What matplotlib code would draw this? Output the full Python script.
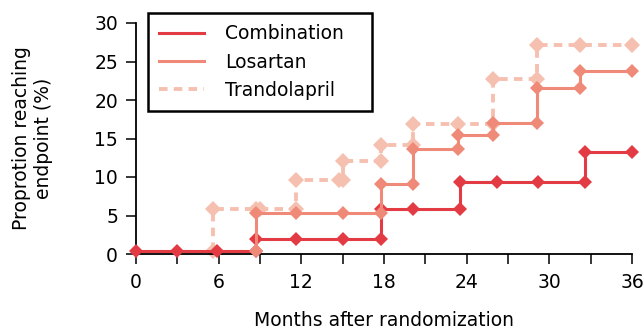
import matplotlib
matplotlib.use('Agg')
import matplotlib.pyplot as plt
import numpy as np

plt.rcParams['font.family'] = ['DejaVu Sans']

# step curves, months vs percent reaching endpoint
combo_x = [0, 3, 5.9, 8.7, 8.7, 11.6, 15.0, 17.8, 17.8, 20.1, 23.5, 23.5, 26.2, 29.2, 32.6, 32.6, 36]
combo_y = [0.4, 0.4, 0.4, 0.4, 2.0, 2.0, 2.0, 2.0, 5.9, 5.9, 5.9, 9.4, 9.4, 9.4, 9.4, 13.2, 13.2]

losartan_x = [8.7, 8.7, 11.6, 15.0, 17.8, 17.8, 20.1, 20.1, 23.4, 23.4, 25.9, 25.9, 29.1, 29.1, 32.2, 32.2, 36]
losartan_y = [0.4, 5.3, 5.3, 5.3, 5.3, 9.1, 9.1, 13.6, 13.6, 15.5, 15.5, 17.0, 17.0, 21.6, 21.6, 23.8, 23.8]

trando_x = [5.6, 5.6, 8.7, 9.0, 11.6, 11.6, 14.7, 15.0, 15.0, 17.8, 17.8, 20.1, 20.1, 23.4, 25.9, 25.9, 29.1, 29.1, 32.2, 36]
trando_y = [0.4, 5.8, 5.8, 5.8, 5.8, 9.6, 9.6, 9.6, 12.1, 12.1, 14.1, 14.1, 16.9, 16.9, 16.9, 22.7, 22.7, 27.2, 27.2, 27.2]

fig = plt.figure(figsize=(6.43, 3.33), dpi=100)
ax = fig.add_axes([136/643, 1 - 254/333, 496/643, 231/333])

ax.plot(combo_x, combo_y, color='#e23b44', lw=2.2, marker='D', ms=7.5, mew=0,
        clip_on=False, zorder=3, label='Combination')
ax.plot(losartan_x, losartan_y, color='#ef8a78', lw=2.2, marker='D', ms=7.5, mew=0,
        clip_on=False, zorder=4, label='Losartan')
ax.plot(trando_x, trando_y, color='#f6c0b0', lw=2.8, ls=(0, (2.2, 1.6)), marker='D', ms=8.5, mew=0,
        clip_on=False, zorder=2, label='Trandolapril')

ax.set_xlim(0, 36)
ax.set_ylim(0, 30)
ax.set_xticks(np.arange(0, 37, 3))
ax.set_xticklabels([str(m) if m % 6 == 0 else '' for m in range(0, 37, 3)])
ax.set_yticks(np.arange(0, 31, 5))

for s in ['top', 'right']:
    ax.spines[s].set_visible(False)
for s in ['left', 'bottom']:
    ax.spines[s].set_linewidth(1.3)
ax.tick_params(direction='out', length=7, width=1.1, labelsize=13.5)
ax.tick_params(axis='x', pad=7)
ax.tick_params(axis='y', pad=6)

ax.set_xlabel('Months after randomization', fontsize=13.5, labelpad=13)
ax.set_ylabel('Proprotion reaching\nendpoint (%)', fontsize=13.5, labelpad=30)

leg = ax.legend(loc='upper left', bbox_to_anchor=(148/643, 1 - 111/333, 224/643, 98/333),
                bbox_transform=fig.transFigure, mode='expand',
                fontsize=13.5, handlelength=2.4, handletextpad=1.1, labelspacing=0.5,
                borderpad=0.6, borderaxespad=0, fancybox=False, framealpha=1)
leg.get_frame().set_edgecolor('black')
leg.get_frame().set_linewidth(1.8)
for line in leg.get_lines():
    line.set_marker('')

fig.savefig('out.png', dpi=100)
